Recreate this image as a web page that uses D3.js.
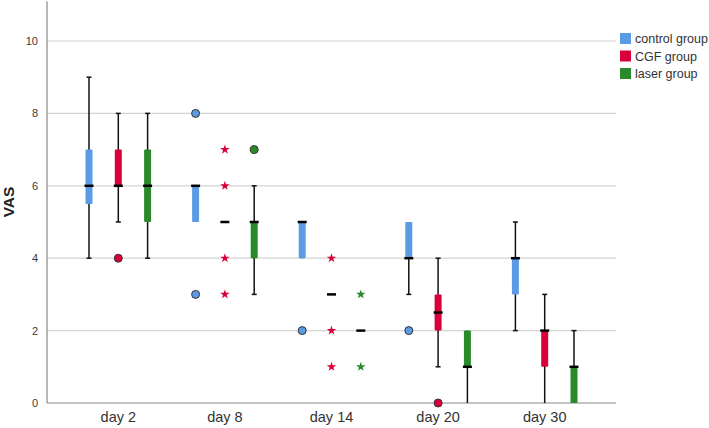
<!DOCTYPE html>
<html>
<head>
<meta charset="utf-8">
<script src="https://cdn.jsdelivr.net/npm/d3@7"></script>
<style>
  body { margin: 0; background: #fff; }
  svg { display: block; font-family: "Liberation Sans", Arial, sans-serif; }
</style>
</head>
<body>
<svg></svg>
<script>
var width = 709;
var height = 428;

// categories
var days = ["day 2", "day 8", "day 14", "day 20", "day 30"];
var groups = ["control group", "CGF group", "laser group"];
var groupColors = ["#5b9be6", "#d8003a", "#2a8a2a"];
var yTicks = [0, 2, 4, 6, 8, 10];

// box stats per day, order follows groups: [whiskerLow, q1, median, q3, whiskerHigh]
var controlStats = [[4, 5.5, 6, 7, 9], [5, 5, 6, 6, 6], [4, 4, 5, 5, 5], [3, 4, 4, 5, 5], [2, 3, 4, 4, 5]];
var cgfStats = [[5, 6, 6, 7, 8], [5, 5, 5, 5, 5], [3, 3, 3, 3, 3], [1, 2, 2.5, 3, 4], [0, 1, 2, 2, 3]];
var laserStats = [[4, 5, 6, 7, 8], [3, 4, 5, 5, 6], [2, 2, 2, 2, 2], [0, 1, 1, 2, 2], [0, 0, 1, 1, 2]];

// outliers (circles) and extremes (stars): [day, group, value]
var outliers = [
  ["day 2", "CGF group", 4],
  ["day 8", "control group", 8], ["day 8", "control group", 3], ["day 8", "laser group", 7],
  ["day 14", "control group", 2],
  ["day 20", "control group", 2], ["day 20", "CGF group", 0]
];
var extremes = [
  ["day 8", "CGF group", 7], ["day 8", "CGF group", 6], ["day 8", "CGF group", 4], ["day 8", "CGF group", 3],
  ["day 14", "CGF group", 4], ["day 14", "CGF group", 2], ["day 14", "CGF group", 1],
  ["day 14", "laser group", 3], ["day 14", "laser group", 1]
];

var svg = d3.select("svg")
  .attr("width", width)
  .attr("height", height);

var plotLeft = 47, plotRight = 616;

var x = d3.scaleBand().domain(days).range([65, 598]);
var xg = d3.scalePoint().domain(groups).range([-29.3, 29.3]);
var y = d3.scaleLinear().domain([0, 10]).range([403, 41]);
var color = d3.scaleOrdinal().domain(groups).range(groupColors);

// grid lines
svg.selectAll(".grid")
  .data(yTicks.filter(function(d) { return d > 0; }))
  .enter().append("line")
    .attr("x1", plotLeft).attr("x2", plotRight)
    .attr("y1", function(d) { return y(d); })
    .attr("y2", function(d) { return y(d); })
    .attr("stroke", "#d4d4d4").attr("stroke-width", 1.2);

// y axis
var yAxis = svg.append("g")
  .attr("transform", "translate(" + plotLeft + ",0)")
  .call(d3.axisLeft(y).tickValues(yTicks).tickSize(0).tickPadding(9));
yAxis.select(".domain").remove();
yAxis.selectAll("text").attr("font-size", "11px").attr("fill", "#3a3a3a");

svg.append("line")
  .attr("x1", plotLeft).attr("x2", plotLeft)
  .attr("y1", y(0)).attr("y2", y(11.1))
  .attr("stroke", "#888").attr("stroke-width", 1.2);
svg.append("line")
  .attr("x1", plotLeft).attr("x2", plotRight)
  .attr("y1", y(0)).attr("y2", y(0))
  .attr("stroke", "#888").attr("stroke-width", 1.2);

// x labels
var xAxis = svg.append("g")
  .attr("transform", "translate(0," + y(0) + ")")
  .call(d3.axisBottom(x).tickSize(0).tickPadding(9));
xAxis.select(".domain").remove();
xAxis.selectAll("text").attr("font-size", "14.5px").attr("fill", "#333");

svg.append("text")
  .attr("transform", "translate(14,202) rotate(-90)")
  .attr("text-anchor", "middle")
  .attr("font-size", "15.5px")
  .attr("font-weight", "bold")
  .attr("fill", "#222")
  .text("VAS");

// boxes
var allStats = [controlStats, cgfStats, laserStats];
var boxes = [];
groups.forEach(function(g, gi) {
  days.forEach(function(d, di) {
    var s = allStats[gi][di];
    boxes.push({day: d, group: g, lo: s[0], q1: s[1], med: s[2], q3: s[3], hi: s[4]});
  });
});

var boxW = 7;
var node = svg.selectAll(".box")
  .data(boxes)
  .enter().append("g")
    .attr("class", "box")
    .attr("transform", function(d) {
      return "translate(" + (x(d.day) + x.bandwidth() / 2 + xg(d.group)) + ",0)";
    });

node.filter(function(d) { return d.hi > d.lo; }).append("line")
  .attr("y1", function(d) { return y(d.lo); })
  .attr("y2", function(d) { return y(d.hi); })
  .attr("stroke", "#111").attr("stroke-width", 1.5);

node.filter(function(d) { return d.hi > d.q3; }).append("line")
  .attr("x1", -2.5).attr("x2", 2.5)
  .attr("y1", function(d) { return y(d.hi); })
  .attr("y2", function(d) { return y(d.hi); })
  .attr("stroke", "#111").attr("stroke-width", 1.5);
node.filter(function(d) { return d.lo < d.q1 && d.lo > 0; }).append("line")
  .attr("x1", -2.5).attr("x2", 2.5)
  .attr("y1", function(d) { return y(d.lo); })
  .attr("y2", function(d) { return y(d.lo); })
  .attr("stroke", "#111").attr("stroke-width", 1.5);

node.filter(function(d) { return d.q3 > d.q1; }).append("rect")
  .attr("x", -boxW / 2)
  .attr("width", boxW)
  .attr("y", function(d) { return y(d.q3); })
  .attr("height", function(d) { return y(d.q1) - y(d.q3); })
  .attr("rx", 1)
  .attr("fill", function(d) { return color(d.group); });

node.append("line")
  .attr("x1", -4.5).attr("x2", 4.5)
  .attr("y1", function(d) { return y(d.med); })
  .attr("y2", function(d) { return y(d.med); })
  .attr("stroke", "#000").attr("stroke-width", 2.5);

function px(d) { return x(d[0]) + x.bandwidth() / 2 + xg(d[1]); }

// outliers
svg.selectAll(".outlier")
  .data(outliers)
  .enter().append("circle")
    .attr("cx", px)
    .attr("cy", function(d) { return y(d[2]); })
    .attr("r", 4)
    .attr("fill", function(d) { return color(d[1]); })
    .attr("stroke", "#333").attr("stroke-width", 1);

// extremes
var star = d3.symbol().type(d3.symbolStar).size(28);
svg.selectAll(".extreme")
  .data(extremes)
  .enter().append("path")
    .attr("d", star)
    .attr("transform", function(d) { return "translate(" + px(d) + "," + y(d[2]) + ")"; })
    .attr("fill", function(d) { return color(d[1]); });

// legend
var legend = svg.selectAll(".legend")
  .data(groups)
  .enter().append("g")
    .attr("class", "legend")
    .attr("transform", function(d, i) { return "translate(620," + (33 + i * 17.5) + ")"; });

legend.append("rect")
  .attr("width", 11).attr("height", 11)
  .attr("fill", function(d) { return color(d); });
legend.append("text")
  .attr("x", 15).attr("y", 10)
  .attr("font-size", "12.5px")
  .attr("fill", "#333")
  .text(function(d) { return d; });
</script>
</body>
</html>
